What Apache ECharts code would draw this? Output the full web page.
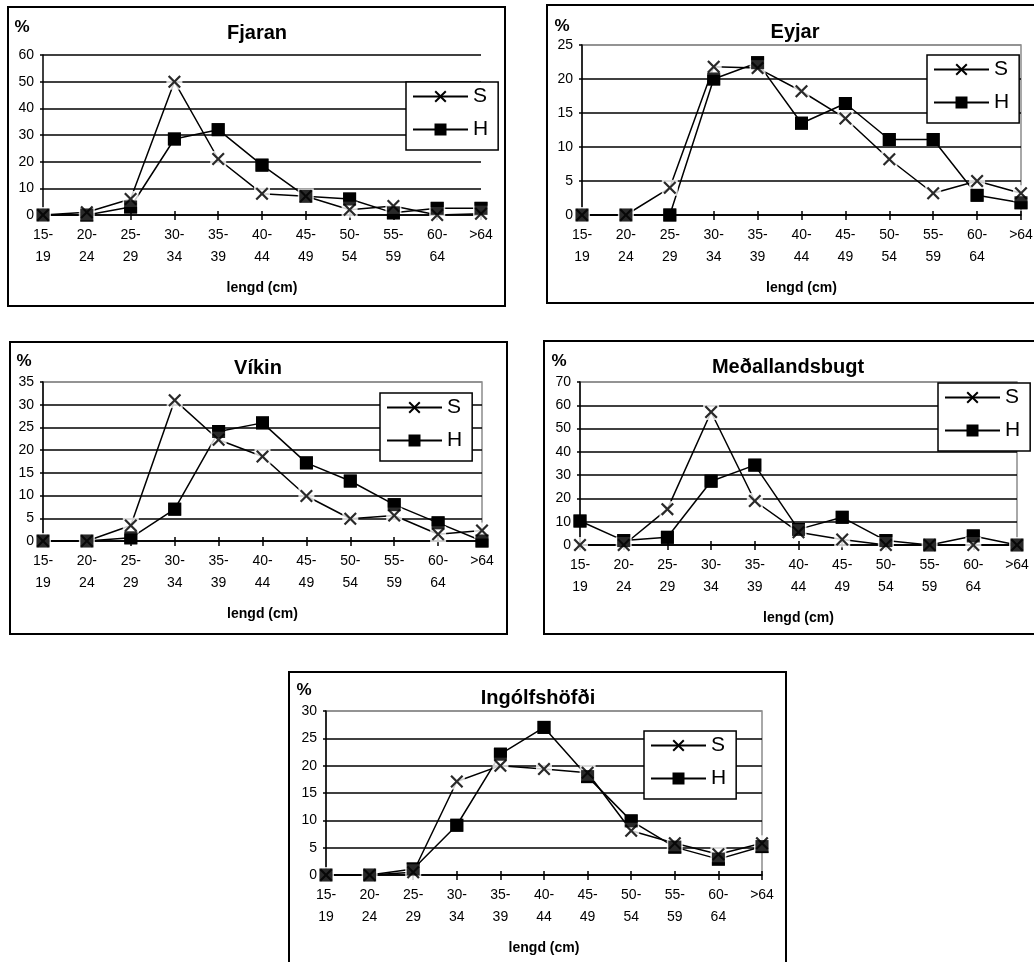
<!DOCTYPE html>
<html>
<head>
<meta charset="utf-8">
<title>Lengdardreifing</title>
<script src="https://cdn.jsdelivr.net/npm/echarts@6/dist/echarts.min.js"></script>
<style>
  html, body { margin: 0; padding: 0; background: #fff; }
  #chart { width: 1034px; height: 962px; }
</style>
</head>
<body>
<div id="chart"></div>
<script>
// Length classes (cm) shared by every station
const lengthClasses = ['15-\n19', '20-\n24', '25-\n29', '30-\n34', '35-\n39', '40-\n44',
                       '45-\n49', '50-\n54', '55-\n59', '60-\n64', '>64'];

// Percentage per length class, S and H, one pair per station
const fjaranS = [0, 1, 6, 50, 21, 8, 7, 2, 3.4, 0, 0.5];
const fjaranH = [0, 0, 3, 28.5, 32, 18.7, 7, 6, 0.8, 2.5, 2.5];

const eyjarS = [0, 0, 4, 21.8, 21.6, 18.2, 14.2, 8.2, 3.2, 5, 3.2];
const eyjarH = [0, 0, 0, 20, 22.4, 13.5, 16.4, 11.1, 11.1, 2.9, 1.8];

const vikinS = [0, 0, 3.4, 31, 22.3, 18.6, 9.9, 4.9, 5.6, 1.5, 2.3];
const vikinH = [0, 0, 0.7, 7, 24.1, 26, 17.2, 13.2, 8, 4, 0];

const medalS = [0, 0, 15.4, 57.1, 18.9, 5.5, 2.4, 0, 0, 0, 0];
const medalH = [10.3, 1.9, 3.3, 27.4, 34.3, 6.7, 11.9, 1.9, 0, 3.9, 0];

const ingolfS = [0, 0, 0.5, 17.1, 20, 19.4, 18.7, 8.1, 5.8, 3.8, 5.8];
const ingolfH = [0, 0, 1.1, 9.1, 22.1, 27, 18, 9.9, 5.1, 2.9, 5.2];

const stationNames = ['Fjaran', 'Eyjar', 'Víkin', 'Meðallandsbugt', 'Ingólfshöfði'];
const seriesS = [fjaranS, eyjarS, vikinS, medalS, ingolfS];
const seriesH = [fjaranH, eyjarH, vikinH, medalH, ingolfH];
const yMaxes = [60, 25, 35, 70, 30];
const ySteps = [10, 5, 5, 10, 5];

// Page layout of each small chart (pixels)
const layout = [
  { box: [8, 7, 505, 306],    grid: [43, 55, 481, 215],   legend: [406, 82],  title: [257, 23],  pct: [22, 27],   frame: false },
  { box: [547, 5, 1040, 303], grid: [582, 45, 1021, 215], legend: [927, 55],  title: [795, 22],  pct: [562, 26],  frame: true },
  { box: [10, 342, 507, 634], grid: [43, 382, 482, 541],  legend: [380, 393], title: [258, 358], pct: [24, 361],  frame: true },
  { box: [544, 341, 1040, 634], grid: [580, 382, 1017, 545], legend: [938, 383], title: [788, 357], pct: [559, 361], frame: true },
  { box: [289, 672, 786, 966], grid: [326, 711, 762, 875], legend: [644, 731], title: [538, 688], pct: [304, 690], frame: true }
];

const FONT = "'Liberation Sans', Arial, Helvetica, sans-serif";
const BLACK = '#000';
const FRAME_GREY = '#8c8c8c';
// Cross marker drawn as a filled outline so it scales with symbolSize
const CROSS = 'path://M0,1.4L1.4,0L6,4.6L10.6,0L12,1.4L7.4,6L12,10.6L10.6,12L6,7.4L1.4,12L0,10.6L4.6,6Z';

const grids = [], xAxes = [], yAxes = [], series = [], legends = [], titles = [], graphics = [];

stationNames.forEach((name, i) => {
  const L = layout[i];
  const [gx0, gy0, gx1, gy1] = L.grid;

  grids.push({
    left: gx0, top: gy0, width: gx1 - gx0, height: gy1 - gy0,
    outerBoundsMode: 'none',
    show: L.frame, borderColor: FRAME_GREY, borderWidth: 1.5, backgroundColor: 'transparent'
  });

  // main category axis with labels and outward ticks
  xAxes.push({
    type: 'category', gridIndex: i, data: lengthClasses, boundaryGap: false,
    axisLine: { lineStyle: { color: BLACK, width: 1.5 } },
    axisTick: { show: true, length: 5, lineStyle: { color: BLACK, width: 1.5 } },
    axisLabel: { interval: 0, color: BLACK, fontSize: 14, lineHeight: 22, margin: 9, fontFamily: FONT },
    splitLine: { show: false },
    name: 'lengd (cm)', nameLocation: 'middle', nameGap: 66,
    nameTextStyle: { color: BLACK, fontWeight: 'bold', fontSize: 14, fontFamily: FONT }
  });
  // companion axis that only adds the inward half of each tick
  xAxes.push({
    type: 'category', gridIndex: i, data: lengthClasses, boundaryGap: false, position: 'bottom',
    axisLine: { show: false }, axisLabel: { show: false }, splitLine: { show: false },
    axisTick: { show: true, inside: true, length: 4, lineStyle: { color: BLACK, width: 1.5 } }
  });

  const nTicks = yMaxes[i] / ySteps[i] + 1;
  const lineColors = Array.from({ length: nTicks }, (_, k) =>
    (L.frame && k === nTicks - 1) ? FRAME_GREY : BLACK);

  yAxes.push({
    type: 'value', gridIndex: i, min: 0, max: yMaxes[i], interval: ySteps[i],
    axisLine: { show: true, lineStyle: { color: BLACK, width: 1.5 } },
    axisTick: { show: true, length: 3, lineStyle: { color: BLACK, width: 1.5 } },
    axisLabel: { color: BLACK, fontSize: 14, margin: 9, fontFamily: FONT },
    splitLine: { show: true, lineStyle: { color: lineColors, width: 1.5 } }
  });

  const common = { xAxisIndex: 2 * i, yAxisIndex: i, animation: false, clip: false,
                   emphasis: { disabled: true } };

  series.push(Object.assign({
    name: 'S', type: 'line', data: seriesS[i], symbol: CROSS, symbolSize: 13, showSymbol: true,
    lineStyle: { color: BLACK, width: 1.5 }, itemStyle: { color: BLACK }, z: 2
  }, common));
  series.push(Object.assign({
    name: 'H', type: 'line', data: seriesH[i], symbol: 'rect', symbolSize: 13, showSymbol: true,
    lineStyle: { color: BLACK, width: 1.5 }, itemStyle: { color: BLACK }, z: 2
  }, common));
  // white backing behind each cross, breaking the lines around it
  series.push(Object.assign({
    name: 'S', type: 'scatter', data: seriesS[i], symbol: 'rect', symbolSize: 16,
    itemStyle: { color: '#fff' }, silent: true, z: 3
  }, common));
  series.push(Object.assign({
    name: 'S', type: 'scatter', data: seriesS[i], symbol: CROSS, symbolSize: 13,
    itemStyle: { color: BLACK }, silent: true, z: 4
  }, common));
  series.push(Object.assign({
    name: 'H', type: 'scatter', data: seriesH[i], symbol: 'rect', symbolSize: 13,
    itemStyle: { color: BLACK }, silent: true, z: 5
  }, common));

  legends.push({
    orient: 'vertical', left: L.legend[0], top: L.legend[1],
    data: ['S', 'H'], selectedMode: false,
    itemWidth: 55, itemHeight: 15, itemGap: 12,
    padding: [4, 10, 10, 6],
    borderColor: BLACK, borderWidth: 1.5, backgroundColor: '#fff',
    textStyle: { color: BLACK, fontSize: 21, fontFamily: FONT },
    z: 10
  });

  titles.push({
    text: name, left: L.title[0], top: L.title[1], textAlign: 'center', padding: 0,
    textStyle: { color: BLACK, fontSize: 20, fontWeight: 'bold', fontFamily: FONT }
  });

  const [bx0, by0, bx1, by1] = L.box;
  graphics.push({
    type: 'rect', shape: { x: bx0, y: by0, width: bx1 - bx0, height: by1 - by0 },
    style: { fill: 'none', stroke: BLACK, lineWidth: 2 }, silent: true, z: -1
  });
  graphics.push({
    type: 'text', x: L.pct[0], y: L.pct[1],
    style: { text: '%', fill: BLACK, font: 'bold 17px ' + FONT, align: 'center', verticalAlign: 'middle' },
    silent: true
  });
});

const chart = echarts.init(document.getElementById('chart'), null, { renderer: 'canvas' });
chart.setOption({
  backgroundColor: '#fff',
  animation: false,
  title: titles,
  legend: legends,
  grid: grids,
  xAxis: xAxes,
  yAxis: yAxes,
  series: series,
  graphic: graphics
});
</script>
</body>
</html>
